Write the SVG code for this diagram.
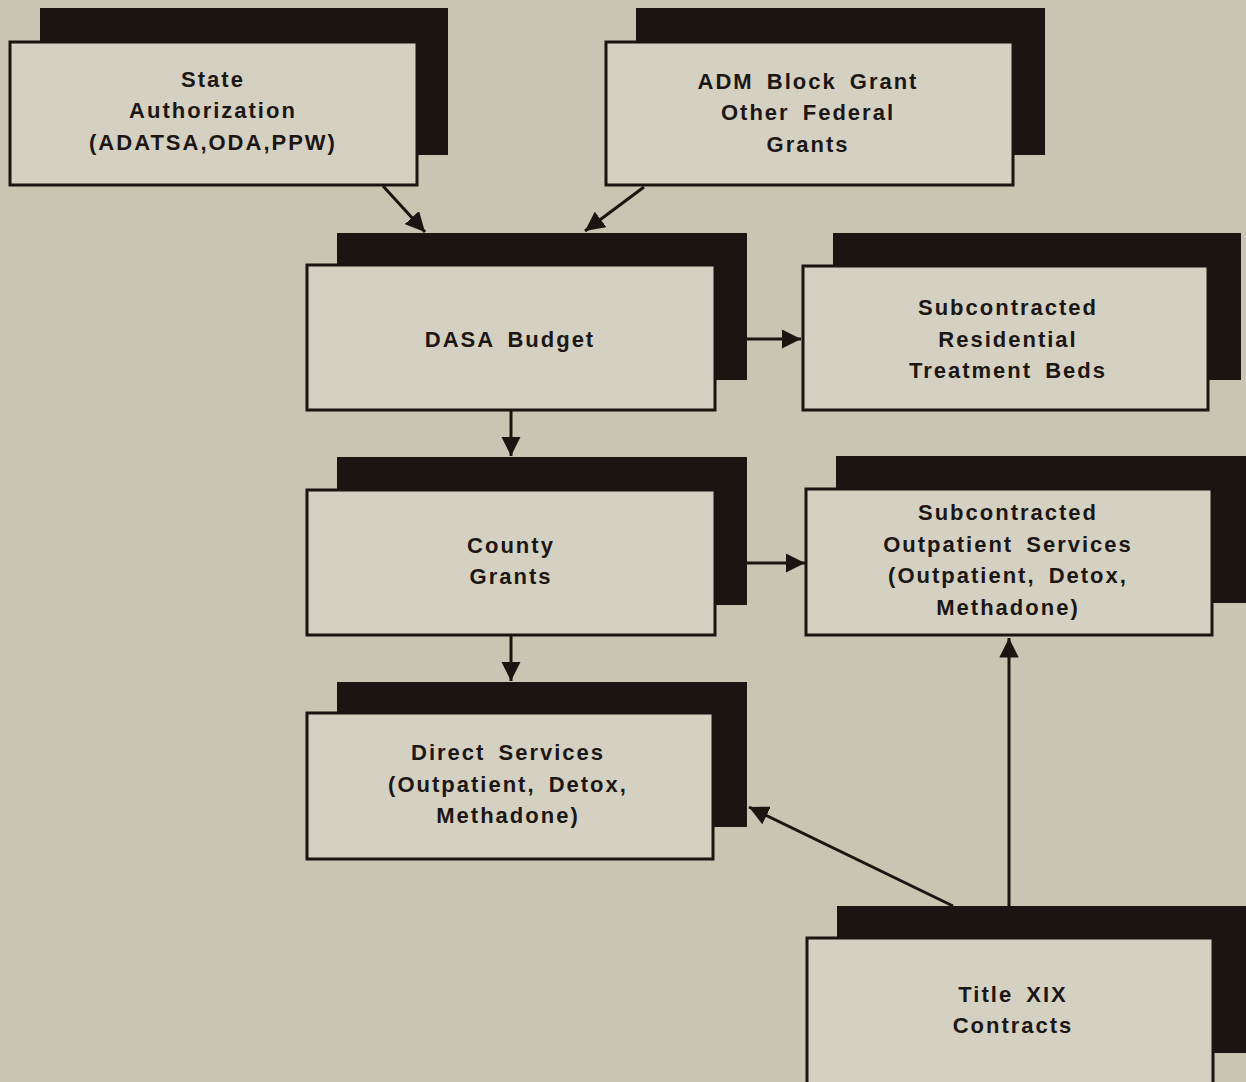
<svg xmlns="http://www.w3.org/2000/svg" width="1246" height="1082" viewBox="0 0 1246 1082">
  <style>
    .bg { fill: #c9c5b3; }
    .shadow { fill: #1b1511; }
    .box { fill: #d4d1c2; stroke: #1b1511; stroke-width: 3; }
    .lbl { font-family: "Liberation Sans", Arial, Helvetica, sans-serif; font-weight: bold; font-size: 22px; letter-spacing: 2px; word-spacing: 5px; fill: #1c1614; text-anchor: middle; }
    .wire { stroke: #1b1511; stroke-width: 3; fill: none; }
  </style>
  <defs>
    <marker id="head" viewBox="0 0 10 10" refX="10" refY="5" markerWidth="6.5" markerHeight="6.5" orient="auto" markerUnits="strokeWidth">
      <path d="M0,0 L10,5 L0,10 Z" fill="#1b1511"/>
    </marker>
  </defs>

  <rect class="bg" x="0" y="0" width="1246" height="1082"/>

  <g id="state-authorization">
    <rect class="shadow" x="40" y="8" width="408" height="147"/>
    <rect class="box" x="10" y="42" width="407" height="143"/>
    <text class="lbl" x="213" y="87">State</text>
    <text class="lbl" x="213" y="118">Authorization</text>
    <text class="lbl" x="213" y="150">(ADATSA,ODA,PPW)</text>
  </g>

  <g id="adm-block-grant">
    <rect class="shadow" x="636" y="8" width="409" height="147"/>
    <rect class="box" x="606" y="42" width="407" height="143"/>
    <text class="lbl" x="808" y="89">ADM Block Grant</text>
    <text class="lbl" x="808" y="120">Other Federal</text>
    <text class="lbl" x="808" y="152">Grants</text>
  </g>

  <g id="dasa-budget">
    <rect class="shadow" x="337" y="233" width="410" height="147"/>
    <rect class="box" x="307" y="265" width="408" height="145"/>
    <text class="lbl" x="510" y="347">DASA Budget</text>
  </g>

  <g id="residential-beds">
    <rect class="shadow" x="833" y="233" width="408" height="147"/>
    <rect class="box" x="803" y="266" width="405" height="144"/>
    <text class="lbl" x="1008" y="315">Subcontracted</text>
    <text class="lbl" x="1008" y="347">Residential</text>
    <text class="lbl" x="1008" y="378">Treatment Beds</text>
  </g>

  <g id="county-grants">
    <rect class="shadow" x="337" y="457" width="410" height="148"/>
    <rect class="box" x="307" y="490" width="408" height="145"/>
    <text class="lbl" x="511" y="553">County</text>
    <text class="lbl" x="511" y="584">Grants</text>
  </g>

  <g id="outpatient-services">
    <rect class="shadow" x="836" y="456" width="410" height="147"/>
    <rect class="box" x="806" y="489" width="406" height="146"/>
    <text class="lbl" x="1008" y="520">Subcontracted</text>
    <text class="lbl" x="1008" y="552">Outpatient Services</text>
    <text class="lbl" x="1008" y="583">(Outpatient, Detox,</text>
    <text class="lbl" x="1008" y="615">Methadone)</text>
  </g>

  <g id="direct-services">
    <rect class="shadow" x="337" y="682" width="410" height="145"/>
    <rect class="box" x="307" y="713" width="406" height="146"/>
    <text class="lbl" x="508" y="760">Direct Services</text>
    <text class="lbl" x="508" y="792">(Outpatient, Detox,</text>
    <text class="lbl" x="508" y="823">Methadone)</text>
  </g>

  <g id="title-xix">
    <rect class="shadow" x="837" y="906" width="412" height="147"/>
    <rect class="box" x="807" y="938" width="406" height="160"/>
    <text class="lbl" x="1013" y="1002">Title XIX</text>
    <text class="lbl" x="1013" y="1033">Contracts</text>
  </g>

  <g id="connectors">
    <line class="wire" x1="383" y1="186" x2="425" y2="232" marker-end="url(#head)"/>
    <line class="wire" x1="644" y1="187" x2="585" y2="231" marker-end="url(#head)"/>
    <line class="wire" x1="747" y1="339" x2="801" y2="339" marker-end="url(#head)"/>
    <line class="wire" x1="511" y1="410" x2="511" y2="456" marker-end="url(#head)"/>
    <line class="wire" x1="747" y1="563" x2="805" y2="563" marker-end="url(#head)"/>
    <line class="wire" x1="511" y1="635" x2="511" y2="681" marker-end="url(#head)"/>
    <line class="wire" x1="953" y1="906" x2="749" y2="807" marker-end="url(#head)"/>
    <line class="wire" x1="1009" y1="906" x2="1009" y2="638" marker-end="url(#head)"/>
  </g>
</svg>
